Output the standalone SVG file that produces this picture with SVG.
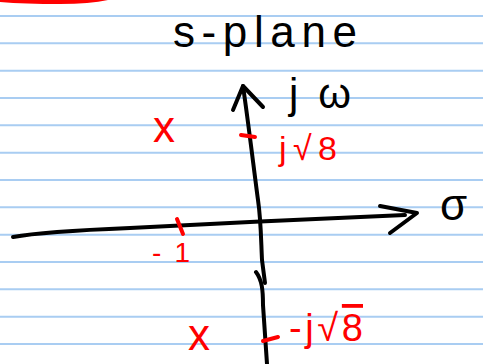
<svg xmlns="http://www.w3.org/2000/svg" width="483" height="364" viewBox="0 0 483 364">
<style>
.rule{stroke:#a9cdf2;stroke-width:2}
.ax{fill:none;stroke:#000;stroke-width:4;stroke-linecap:round;stroke-linejoin:round}
.rs{fill:none;stroke:#f00;stroke-width:4;stroke-linecap:round}
.bk{fill:#000;font-family:"Liberation Sans","DejaVu Sans",sans-serif}
.rd{fill:#f00;font-family:"Liberation Sans","DejaVu Sans",sans-serif}
</style>
<rect width="483" height="364" fill="#fff"/>
<g id="ruling">
<line class="rule" x1="0" y1="16" x2="483" y2="16"/>
<line class="rule" x1="0" y1="43.3" x2="483" y2="43.3"/>
<line class="rule" x1="0" y1="70.7" x2="483" y2="70.7"/>
<line class="rule" x1="0" y1="98" x2="483" y2="98"/>
<line class="rule" x1="0" y1="125.3" x2="483" y2="125.3"/>
<line class="rule" x1="0" y1="152.7" x2="483" y2="152.7"/>
<line class="rule" x1="0" y1="180" x2="483" y2="180"/>
<line class="rule" x1="0" y1="207.3" x2="483" y2="207.3"/>
<line class="rule" x1="0" y1="234.7" x2="483" y2="234.7"/>
<line class="rule" x1="0" y1="262" x2="483" y2="262"/>
<line class="rule" x1="0" y1="289.3" x2="483" y2="289.3"/>
<line class="rule" x1="0" y1="316.7" x2="483" y2="316.7"/>
<line class="rule" x1="0" y1="344" x2="483" y2="344"/>
</g>
<path id="red-mark" d="M0,0 L108,0 Q90,4 60,4 Q25,4 0,2 Z" fill="#f00"/>
<g id="connectors">
<path class="ax" d="M13,237 C40,232 80,230 130,228 L260,221.5 L405,215"/>
<path class="ax" d="M380,206 L417,213 L390,233"/>
<path class="ax" d="M243,86 C248,120 254,170 258,200 C261,220 261,240 262,260 L265,283"/>
<path class="ax" d="M256,272 C262,280 263,290 263,305 L267,364"/>
<path class="ax" d="M233,110 L243,86 L263,107"/>
</g>
<g id="title"><text class="bk" x="173" y="47" font-size="44" textLength="184" lengthAdjust="spacing">s-plane</text></g>
<g id="jw-label"><text class="bk" x="289" y="108" font-size="42" textLength="62" lengthAdjust="spacing">jω</text></g>
<g id="sigma-label"><text class="bk" x="440" y="220" font-size="44">σ</text></g>
<g id="tick-jroot8">
<line class="rs" x1="241" y1="135" x2="255" y2="137"/>
<text class="rd" x="279" y="160" font-size="34" textLength="58" lengthAdjust="spacing">j√8</text>
</g>
<g id="tick-minus1">
<line class="rs" x1="177" y1="219" x2="183" y2="234"/>
<text class="rd" x="152" y="262" font-size="28" textLength="38" lengthAdjust="spacing">-1</text>
</g>
<g id="tick-minusjroot8">
<line class="rs" x1="263" y1="341" x2="278" y2="337"/>
<text class="rd" x="289" y="341" font-size="38" textLength="74" lengthAdjust="spacing">-j√<tspan text-decoration="overline">8</tspan></text>
</g>
<g id="pole-upper"><text class="rd" x="153" y="142" font-size="44">x</text></g>
<g id="pole-lower"><text class="rd" x="188" y="350" font-size="44">x</text></g>
</svg>
